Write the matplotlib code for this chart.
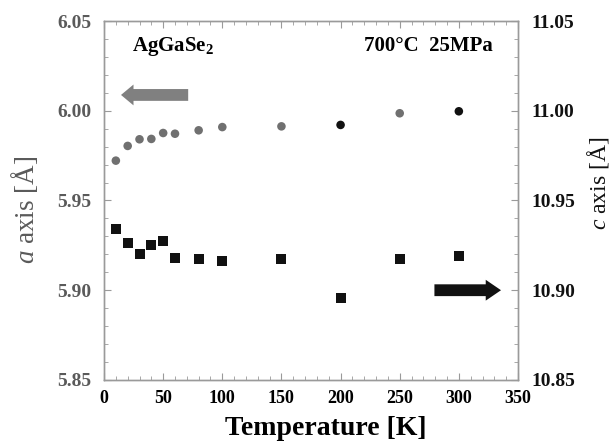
import matplotlib
matplotlib.use("Agg")
import matplotlib.pyplot as plt
from matplotlib.ticker import MultipleLocator, FormatStrFormatter

plt.rcParams['font.family'] = ['Liberation Serif', 'DejaVu Serif']
plt.rcParams['mathtext.fontset'] = 'custom'
plt.rcParams['mathtext.rm'] = 'Liberation Serif'
plt.rcParams['mathtext.it'] = 'Liberation Serif:italic'
plt.rcParams['mathtext.bf'] = 'Liberation Serif:bold'

# Data
temps = [10, 20, 30, 40, 50, 60, 80, 100, 150, 200, 250, 300]
a_axis = [5.9722, 5.9804, 5.9841, 5.9843, 5.9876, 5.9872, 5.9891, 5.9909,
          5.9913, 5.9921, 5.9986, 5.9997]
a_colors = ['#707070'] * 9 + ['#111111', '#707070', '#111111']
c_axis = [10.9343, 10.9262, 10.9202, 10.9252, 10.9273, 10.9181, 10.9174,
          10.9163, 10.9174, 10.8955, 10.9174, 10.9192]
x_ticks = [0, 50, 100, 150, 200, 250, 300, 350]
a_ticks = [5.85, 5.90, 5.95, 6.00, 6.05]
c_ticks = [10.85, 10.90, 10.95, 11.00, 11.05]

fig = plt.figure(figsize=(6.13, 4.47), dpi=100)
ax = fig.add_axes([0.1697, 0.150, 0.6753, 0.803])
ax2 = ax.twinx()

spine_col = '#9a9a9a'
gray_txt = '#5a5a5a'

ax.scatter(temps, a_axis, s=38, c=a_colors, marker='o', linewidths=0, zorder=3)
ax2.scatter(temps, c_axis, s=46, c='#111111', marker='s', linewidths=0, zorder=3)

ax.set_xlim(0, 350)
ax.set_ylim(5.85, 6.05)
ax2.set_ylim(10.85, 11.05)
ax.set_xticks(x_ticks)
ax.set_yticks(a_ticks)
ax2.set_yticks(c_ticks)
ax.xaxis.set_minor_locator(MultipleLocator(10))
ax.yaxis.set_minor_locator(MultipleLocator(0.01))
ax2.yaxis.set_minor_locator(MultipleLocator(0.01))
ax.yaxis.set_major_formatter(FormatStrFormatter('%.2f'))
ax2.yaxis.set_major_formatter(FormatStrFormatter('%.2f'))

for a_ in (ax, ax2):
    for s in a_.spines.values():
        s.set_color(spine_col)
        s.set_linewidth(1.0)

ax.tick_params(axis='x', which='both', direction='in', top=True, color=spine_col,
               labelsize=13, pad=7)
ax.tick_params(axis='x', which='major', length=5)
ax.tick_params(axis='x', which='minor', length=3)
ax.tick_params(axis='y', which='both', direction='in', color=spine_col,
               labelsize=14, labelcolor=gray_txt, pad=9)
ax.tick_params(axis='y', which='major', length=5)
ax.tick_params(axis='y', which='minor', length=3)
ax2.tick_params(axis='y', which='both', direction='in', color=spine_col,
                labelsize=14, labelcolor='#111111', pad=10)
ax2.tick_params(axis='y', which='major', length=5)
ax2.tick_params(axis='y', which='minor', length=3)

for lab in ax.get_xticklabels() + ax.get_yticklabels() + ax2.get_yticklabels():
    lab.set_fontweight('bold')

ax.set_xlabel('Temperature [K]', fontsize=20, fontweight='bold')
ax.xaxis.set_label_coords(0.536, -0.10)
ax.xaxis.label.set_va('top')
ax.set_ylabel(r'$a$ axis [Å]', fontsize=19.5, color=gray_txt)
ax.yaxis.set_label_coords(-0.191, 0.474)
ax.yaxis.label.set_va('center')
ax2.set_ylabel(r'$c$ axis [Å]', fontsize=17, color='#111111')
ax2.yaxis.set_label_coords(1.194, 0.549)
ax2.yaxis.label.set_va('center')

ax.text(0.067, 0.93, r'AgGaSe$_\mathbf{2}$', transform=ax.transAxes, fontsize=15,
        fontweight='bold', va='center', ha='left')
ax.text(0.94, 0.93, '700°C  25MPa', transform=ax.transAxes, fontsize=15,
        fontweight='bold', va='center', ha='right')

ax.annotate('', xy=(12, 6.0088), xytext=(73.5, 6.0088),
            arrowprops=dict(arrowstyle='simple,head_length=0.9,head_width=1.5,tail_width=0.85',
                            color='#808080', lw=0))
ax2.annotate('', xy=(338, 10.90), xytext=(277, 10.90),
             arrowprops=dict(arrowstyle='simple,head_length=1.1,head_width=1.5,tail_width=0.85',
                             color='#111111', lw=0))

fig.savefig('out.png', dpi=100)
